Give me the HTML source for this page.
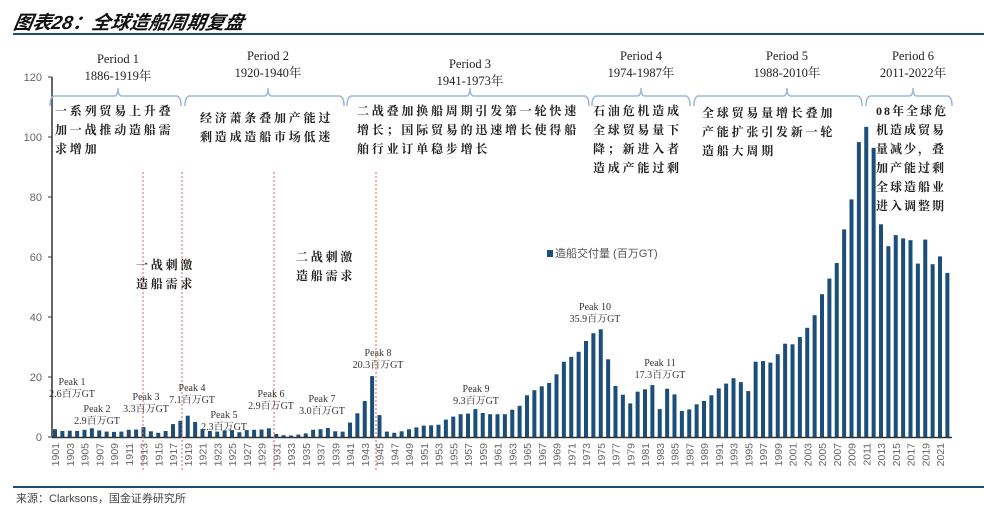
<!DOCTYPE html>
<html><head><meta charset="utf-8"><style>
body{margin:0;background:#fff;width:984px;height:509px;overflow:hidden;position:relative;font-family:"Liberation Serif","Noto Serif CJK SC",serif}
.t{position:absolute;white-space:nowrap}
.cn{font-family:"Liberation Serif","Noto Serif CJK SC",serif;font-weight:bold;font-size:12px;color:#222;letter-spacing:2.8px;line-height:19px;position:absolute;white-space:nowrap}
</style></head><body>
<div class="t" style="left:14px;top:8px;font-size:19px;font-weight:bold;font-style:italic;font-family:'Liberation Sans','Noto Sans CJK SC',sans-serif;color:#111;transform:skewX(-10deg)">图表28：全球造船周期复盘</div>
<div style="position:absolute;left:13px;top:33px;width:971px;height:2px;background:#1f4e6e"></div>
<div style="position:absolute;left:13px;top:486px;width:971px;height:2px;background:#1f4e6e"></div>
<div class="t" style="left:16px;top:490px;font-size:11px;color:#444;font-family:'Liberation Sans','Noto Sans CJK SC',sans-serif">来源：Clarksons，国金证券研究所</div>
<svg id="chart" width="984" height="509" style="position:absolute;left:0;top:0"></svg>

<div class="cn" style="left:55px;top:102px">一系列贸易上升叠<br>加一战推动造船需<br>求增加</div>
<div class="cn" style="left:200px;top:109px">经济萧条叠加产能过<br>剩造成造船市场低迷</div>
<div class="cn" style="left:357px;top:102px">二战叠加换船周期引发第一轮快速<br>增长；国际贸易的迅速增长使得船<br>舶行业订单稳步增长</div>
<div class="cn" style="left:593px;top:102px">石油危机造成<br>全球贸易量下<br>降；新进入者<br>造成产能过剩</div>
<div class="cn" style="left:702px;top:104px">全球贸易量增长叠加<br>产能扩张引发新一轮<br>造船大周期</div>
<div class="cn" style="left:876px;top:102px;letter-spacing:2px">08年全球危<br>机造成贸易<br>量减少，叠<br>加产能过剩<br>全球造船业<br>进入调整期</div>
<div class="cn" style="left:136px;top:256px">一战刺激<br>造船需求</div>
<div class="cn" style="left:296px;top:248px">二战刺激<br>造船需求</div>
<div class="t" style="left:547px;top:245px;font-size:11px;color:#555;font-family:'Liberation Sans','Noto Sans CJK SC',sans-serif"><span style="display:inline-block;width:6px;height:7px;background:#1b4f7a;margin-right:2px"></span>造船交付量 (百万GT)</div>

<script>
const years=[];for(let y=1901;y<=2022;y++)years.push(y);
const values=[2.6,2.0,2.1,2.0,2.4,2.9,2.2,1.8,1.7,1.8,2.4,2.5,3.3,1.9,1.4,2.0,4.3,5.4,7.1,5.0,2.6,2.0,1.8,2.2,2.3,1.6,2.3,2.4,2.5,2.9,1.0,0.6,0.5,0.8,1.2,2.4,2.6,3.0,1.9,1.8,4.8,7.9,12.0,20.3,7.3,1.8,1.4,1.9,2.6,3.2,3.8,3.9,4.1,5.8,6.8,7.6,7.8,9.3,8.0,7.6,7.6,7.6,9.1,10.4,13.9,15.6,16.9,18.0,20.9,25.1,26.7,28.4,32.0,34.6,35.9,25.9,17.0,14.1,11.2,15.1,15.9,17.3,9.3,16.1,14.2,8.7,9.2,10.9,12.0,13.9,16.2,17.8,19.6,18.3,15.3,25.1,25.3,24.8,27.6,31.1,30.9,33.3,36.4,40.6,47.6,52.8,58.0,69.2,79.2,98.3,103.4,96.4,70.9,63.6,67.3,66.2,65.6,57.8,65.8,57.6,60.2,54.7];
const yTicks=[0,20,40,60,80,100,120];
const periods=[["Period 1","1886-1919年",50,181,118,63],["Period 2","1920-1940年",185,344,268,60],["Period 3","1941-1973年",347,589,470,68],["Period 4","1974-1987年",592,690,641,60],["Period 5","1988-2010年",694,862,787,60],["Period 6","2011-2022年",866,952,913,60]];
const peaks=[["Peak 1","2.6百万GT",72,385],["Peak 2","2.9百万GT",97,412],["Peak 3","3.3百万GT",146,400],["Peak 4","7.1百万GT",192,391],["Peak 5","2.3百万GT",224,418],["Peak 6","2.9百万GT",271,397],["Peak 7","3.0百万GT",322,402],["Peak 8","20.3百万GT",378,356],["Peak 9","9.3百万GT",476,392],["Peak 10","35.9百万GT",595,310],["Peak 11","17.3百万GT",660,366]];
const redLines=[143,182,274,376];
const svg=document.getElementById('chart');const NS='http://www.w3.org/2000/svg';
function mk(t,a,p){const e=document.createElementNS(NS,t);for(const k in a)e.setAttribute(k,a[k]);(p||svg).appendChild(e);return e;}
const y0=437,yPer=3.0,x0=55,dx=7.375;
const ys=v=>y0-v*yPer, xs=i=>x0+i*dx;
let ax=mk('line',{x1:52,y1:77,x2:52,y2:y0,stroke:'#333','stroke-width':1.5});


yTicks.forEach(v=>{
 mk('line',{x1:48,x2:52,y1:ys(v),y2:ys(v),stroke:'#333'});
 const t=mk('text',{x:42,y:ys(v)+4,'text-anchor':'end','font-size':11,fill:'#666','font-family':'Liberation Sans,sans-serif'});
 t.textContent=v;
 
 
});
values.forEach((v,i)=>{
 const r=mk('rect',{x:xs(i)-2,y:ys(v),width:4,height:v*yPer,fill:'#1b4f7a'});
 
 
});
let bl=mk('line',{x1:52,y1:y0+.5,x2:952,y2:y0+.5,stroke:'#333','stroke-width':1.5});


years.forEach((y,i)=>{
 if(i%2)return;
 const x=xs(i),t=mk('text',{x:0,y:0,transform:`translate(${x+4},${443}) rotate(-90)`,'text-anchor':'end','font-size':10.5,fill:'#666','font-family':'Liberation Sans,sans-serif'});
 t.textContent=y;
 
 
});
redLines.forEach(x=>{const l=mk('line',{x1:x,x2:x,y1:172,y2:470,stroke:'#e06060','stroke-width':1,'stroke-dasharray':'2,2'});
 
 });
periods.forEach(p=>{
 const [n,r,a,b,c,ty]=p;
 const g=mk('g',{});
 
 
 let t=mk('text',{x:c,y:ty,'text-anchor':'middle','font-size':12.5,fill:'#222'},g);t.textContent=n;
 t=mk('text',{x:c,y:ty+17,'text-anchor':'middle','font-size':12.5,fill:'#222'},g);t.textContent=r;
 mk('path',{d:`M${a},106 Q${a},96 ${a+5},96 L${c-4},96 Q${c},96 ${c},88 Q${c},96 ${c+4},96 L${b-5},96 Q${b},96 ${b},106`,fill:'none',stroke:'#9bb8d8','stroke-width':1.5},g);
});
peaks.forEach(p=>{
 const g=mk('g',{});
 
 
 let t=mk('text',{x:p[2],y:p[3],'text-anchor':'middle','font-size':10,fill:'#333'},g);t.textContent=p[0];
 t=mk('text',{x:p[2],y:p[3]+12,'text-anchor':'middle','font-size':10,fill:'#333','font-family':'Liberation Serif,Noto Serif CJK SC,serif'},g);t.textContent=p[1];
});
</script>
</body></html>
